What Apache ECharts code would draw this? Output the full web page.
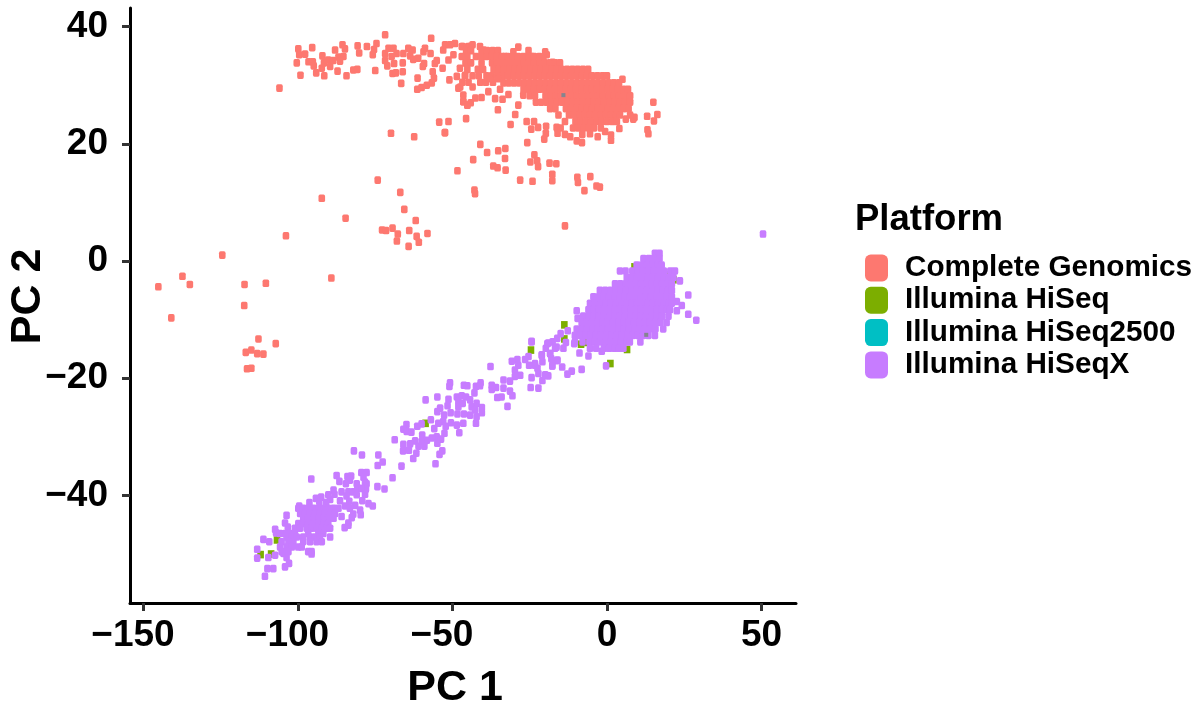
<!DOCTYPE html>
<html>
<head>
<meta charset="utf-8">
<style>html,body{margin:0;padding:0;background:#fff}#c{width:1202px;height:708px}</style>
<script src="https://cdn.jsdelivr.net/npm/echarts@6/dist/echarts.min.js"></script>
</head>
<body>
<div id="c"></div>
<script>
const platforms = ['Complete Genomics','Illumina HiSeq','Illumina HiSeq2500','Illumina HiSeqX'];
const colors = ['#FD7870','#7CAE00','#00BFC4','#C77CFF'];
const xTicks = [-150,-100,-50,0,50];
const yTicks = [-40,-20,0,20,40];

// Complete Genomics: scattered points
const cgScatter = [[-69.9,21.8],[-62.4,21.2],[-52.4,21.9],[-48.4,15.4],[-74.2,13.8],[-66.9,11.7],[-92.3,10.7],[-65.6,8.8],[-61.9,6.9],[-84.6,7.3],[-72.8,5.3],[-71.5,5.2],[-69.4,5.6],[-67.7,4.6],[-64,5.2],[-61.6,4.2],[-58.1,4.7],[-68,3.4],[-60.9,3.2],[-64.2,2.5],[-103.9,4.3],[-124.5,1],[-137.4,-2.6],[-135,-4],[-145.2,-4.4],[-117.3,-4],[-110.4,-3.8],[-89.2,-2.9],[-117.4,-7.6],[-141,-9.7],[-112.8,-13.3],[-107.2,-14.1],[-116.9,-15.6],[-115.1,-15.2],[-113.2,-15.8],[-111.2,-15.9],[-116.5,-18.4],[-115.1,-18.3],[-13.6,6],
[-106,29.5],[-99.9,36.2],[-99.6,35.2],[-100.4,33.8],[-99.2,31.7],[-97.7,35.3],[-95.4,36.4],[-96.6,34],[-95.2,34],[-94.9,33.3],[-94.1,32.1],[-92.3,32.9],[-91.5,31.6],[-92.1,35],[-91.6,33.8],[-90.2,34.3],[-89.6,33.2],[-88,36],[-88.6,34.2],[-86.9,34.8],[-87.2,32.4],[-85.6,36.9],[-84.8,36.2],[-85.3,34.9],[-86.4,34.1],[-84.3,31.6],[-82.1,32.6],[-80.8,32.7],[-80.7,36.7],[-80.2,35.5],[-77.7,36.6],[-74.6,37.1],[-75.4,36.1],[-75.8,35.2],[-75,32.5],[-71.8,38.6],[-71.8,35.4],[-71.8,34.2],[-71.1,33.3],[-70.7,36.3],[-69.1,36.3],[-69.7,34.9],[-68.9,33.7],[-68.1,35.4],[-69.4,32],[-68.3,32.1],[-66.1,32.3],[-66.1,33.8],[-66.6,30.3],[-65.9,35.4],[-64.3,36.3],[-63.7,35],[-62.9,36],[-62.7,34.4],[-61.1,34.6],[-59.4,35.7],[-58.9,36.3],[-56.9,38],[-59.2,33.7],[-59.6,33.2],[-57.1,35.4],[-61.3,31.2],[-61.4,29.3],[-60,29.6],[-58.3,30],[-56.7,30.4],[-56,31.2],[-56.4,32.3],[-55.7,33.7],[-55.1,34.2],[-53,36],[-52.4,36.9],[-50.8,36.9],[-49.2,37.1],[-53.2,32.9],[-51.3,34.3],[-49.7,35.2],[-51,30.9],[-48.6,31.5],[-46.7,36.6],[-44.9,36.6],[-47,34.9],[-45.4,33.7],[-47.6,32.9],[-45.9,31.7],[-48.1,29.5],[-46.5,28.3],[-46.5,27.2],[-45.2,26.6],[-45.6,24.3],[-54.3,23.7],[-51.3,23.8],[-52.5,21.9],
[-41,19.9],[-38.8,18.5],[-35.2,18.8],[-32.9,19.2],[-33,17.5],[-43.3,17.3],[-36.8,16.2],[-35.4,15.9],[-32.8,15.5],[-28.1,13.8],[-24.1,13.6],[-17.7,14.8],[-17.7,13.7],[-24.8,16.9],[-23.5,18.1],[-22.6,17.1],[-22.3,16.1],[-18.6,16.7],[-16.4,16.6],[-9.6,14.3],[-9.4,13.4],[-5.4,14.4],[-7.3,12],[-3.4,12.8],[-2.3,12.6],[-42.9,12.1],[-42.7,11.5],[-25.8,20.2],[-20.3,20.8],[-19.8,21.8],[-19.7,23],[-31.2,23.3],[-35.3,25.8],[-29.7,25],[-26,23.8],[-24.5,22.5],[-23.6,23.8],[-22.3,22.8],[-16,21.8],[-16.3,22.8],[-15,22.7],[-9.8,20.5],[-8.1,20.2],[-13.6,21.6],[-11.9,21.2],[-8,21.6],[-3,21.2],[-5.5,21.7],[-0.6,22.1],[1.3,21.5],[1.3,20.6],[4,22.6],[6.1,24.2],[8.5,24.2],[8.9,24.5],[7.5,24.9],[13,24.7],[15.2,23.9],[16.3,25],[15,27.1],[13.1,22.4],[13.4,21.7],[5,31],[7.3,28],[6.7,29],
[-47,36.6],[-44.3,36.6],[-43.5,36.9],[-41.1,36.6],[-40,36],[-36.8,35.4],[-33,34.9],[-30.3,35.7],[-28.7,36.5],[-25.4,35.9],[-20,35.7],[-19.5,35.2],[-20.6,34.6],[-17.6,33.9],[-24.4,34.9],
[-46.5,27.2],[-45.2,26.6],[-44.1,27],[-42.6,27.8],[-40.6,27.9],[-36.2,27.7],[-33.8,27.6],[-31.9,28.4],[-27.1,28.3],[-28.7,26.6],[-47.5,29.7],[-43.5,29.7],[-38.4,28.9],[-34.6,29.3]];

const cgCloudY = [35.9,34.9,33.8,32.7,31.6,30.5,31.1,30.4,29.3,28.2,27.1,26,24.9,23.8,22.7];
const cgCloudX = [
[-45.6,-44,-40.6,-38.8,-37,-35.3],
[-45.2,-42.4,-40.7,-39,-37.3,-35.6,-33.9,-32.2,-30.5,-28.8,-27.1,-25.4,-23.6,-21.9],
[-45.8,-44,-40.6,-37.2,-35.5,-33.8,-32.1,-30.4,-28.7,-27,-25.3,-23.6,-21.9,-20.2,-18.5,-16.8,-15.2],
[-45.2,-41.8,-40.1,-36.7,-35,-33.3,-31.6,-29.9,-28.2,-26.5,-24.8,-23.1,-21.4,-19.7,-18,-16.3,-14.6,-12.9,-11.2,-9.5,-7.8,-6.1],
[-46,-43.5,-41.5,-39,-37.3,-35.5,-33.8,-32,-30.3,-28.6,-26.9,-25.2,-23.5,-21.8,-20.1,-18.4,-16.7,-15,-13.3,-11.6,-9.9,-8.2,-6.5,-4.8,-3.1,-1.4,0],
[-46.8,-44.8,-41,-39.2,-36.9],
[-37.9,-35.1],
[-33.5,-31.8,-30.1,-28.4,-26.7,-25,-23.3,-21.6,-19.9,-18.2,-16.5,-14.8,-13.1,-11.4,-9.7,-8,-6.3,-4.6,-2.9,-1.2,0.5,2.2,3.9],
[-27,-25.3,-23.6,-21.9,-20.2,-18.5,-16.8,-15.1,-13.4,-11.7,-10,-8.3,-6.6,-4.9,-3.2,-1.5,0.2,1.9,3.6,5.3,6.8],
[-25,-23.3,-19.9,-18.2,-16.5,-14.8,-13.1,-11.4,-9.7,-8,-6.3,-4.6,-2.9,-1.2,0.5,2.2,3.9,5.6,7.5],
[-23,-21.3,-19.6,-17.9,-16.2,-14.5,-12.8,-11.1,-9.4,-7.7,-6,-4.3,-2.6,-0.9,0.8,2.5,4.2,5.9,7.5],
[-18.4,-16.7,-13.3,-11.6,-9.9,-8.2,-6.5,-4.8,-3.1,-1.4,0.3,2,3.7,5.4,7],
[-15.7,-12.3,-10.6,-8.9,-7.2,-5.5,-3.8,-2.1,-0.4,1.3,3,4.2],
[-13.6,-10.2,-8.5,-6.8,-5.1,-3.4,-1.7,0,1.7,3.2],
[-11,-9.3,-7.6,-5.9,-4.2,-2]];

const hiSeq = [[-13.8,-10.9],[-13.8,-13.3],[1.1,-17.5],[8.9,-1],[10.5,-1.1],[6.6,-3],[21.5,-3.2],[20.4,-2.4],[6.5,-15.1],[-6.6,-13.9],[-8.4,-14.2],[-0.3,-6.4],[-24.6,-15.2],[-58.7,-27.7],[-112.1,-50.1],[-108.7,-50],[-106.8,-47.6]];
const hiSeq2500 = [[-14.1,28.3],[12.7,-12.6]];

// Illumina HiSeqX: scattered points
const xScatter = [[50.5,4.6],[23.6,-3.4],[26.3,-5.8],[22.6,-6.9],[24.2,-7.6],[22.6,-8.5],[26.3,-9.1],[28.9,-10.1],[-0.3,-17.9],[-8.2,-18.5],[-11.4,-18.8],[-12.8,-19.3],[-14.5,-18.1],[-17.7,-17.9],[-16.2,-17],[-18,-16.7],[-20.9,-17.2],[-21.1,-16.1],[-19.8,-14.9],[-18.4,-15.8],[-19.3,-14.1],[-17.6,-13.8],[-16.3,-14.7],[-14.1,-14.9],[-16.1,-13.2],[-15,-12.4],[-12.7,-11.9],[-13.3,-13.9],[-10.6,-14.1],[-8.9,-15.7],[-6,-16.2],[-1.7,-15.4],[-9.8,-8.5],[-9.5,-9.8],[-7.7,-9.8],[-24.4,-13.7],[-23.3,-17.5],[-22.5,-18.3],[-22.2,-19.2],[-19.8,-19.5],
[-24.4,-13.8],[-21.1,-16],[-19,-14],[-16.8,-14.9],[-18.4,-15.8],[-16,-16.9],[-17.7,-17.9],[-19,-19.6],[-20.9,-20.4],[-22.2,-21.7],[-24.7,-21.6],[-24.4,-19.9],[-20,-19.4],[-23.3,-17.8],[-25.4,-16.3],[-26.5,-16.8],[-25.2,-17.8],[-29,-16.8],[-30.8,-17.1],[-28.7,-17.8],[-29.8,-18.6],[-28.1,-19.5],[-29.8,-19.7],[-37.7,-18],[-31.4,-20.5],[-33.5,-20.3],[-33.5,-21.7],[-31.4,-22.2],[-30.6,-23],[-34.1,-23.2],[-35.5,-23.3],[-32.2,-24.8],[-35.9,-21.6],[-37.3,-21.2],[-37.3,-21.9],[-40.9,-20.8],[-42.4,-21.4],[-41.1,-21.3],[-42.9,-22.5],[-50.8,-20.8],[-51,-21.4],[-46.3,-21.2],[-45.2,-21.3],[-54.9,-23.2],[-58.7,-23.7],[-51.3,-23.6],[-51.6,-24.7],[-48.6,-23.2],[-47,-23],[-45.6,-23.2],[-44.3,-23.7],[-42.2,-24.3],[-40.5,-25],[-48.1,-24],[-46.7,-24.3],[-48.1,-24.9],[-43.8,-24.9],[-42.7,-25.4],[-40.5,-25.9],[-44.3,-26.3],[-42.2,-26.6],[-42.4,-27.7],[-48.4,-26.1],[-46.3,-26.1],[-50.6,-25.9],[-52.7,-26.3],[-54,-25.1],[-54.9,-25.7],[-46.5,-27.7],[-48.6,-28],[-50.5,-27.6],[-53,-27.4],[-54.6,-27.7],[-52.2,-28.2],[-47.8,-29.3],[-52.6,-29.4],[-57,-27.1],[-60,-27.8],[-61.4,-28.2],[-55.9,-28.6],[-64.9,-27.9],[-65.9,-28.7],[-64.8,-29.1],[-63.3,-29.2],[-59.8,-29.7],[-55.1,-30],[-53.7,-30.4],[-56.7,-30.2],[-58.3,-30.6],[-60,-30.8],[-62.1,-30.7],[-63.7,-31.2],[-65.9,-31.3],[-68.7,-30.5],[-54.9,-31.1],[-59.1,-31.6],[-61,-31.6],[-66,-32.4],[-64.1,-32.3],[-61.7,-32.8],[-53.3,-32.4],[-54.2,-33],[-62.7,-33.7],[-55.5,-34.6],[-66.5,-35],[-72.6,-34.3],[-74,-33.1],[-74.2,-34.9],[-79.3,-33.1],[-81.9,-32.4],[-69.4,-37],[-74.3,-38.5],[-72,-38.9],[-75.8,-41.8],[-77.2,-41.4],[-79.2,-40.9],[-77.8,-36.1],[-79.5,-36.1],[-78.3,-37.7],[-78.8,-36.9],[-82.8,-36.7],[-84,-36.8],[-87.5,-36.6],[-83.2,-37.4],[-86.6,-37.6],[-84.5,-38],[-95.7,-37.2],[-81,-38],[-77.8,-38],[-80.8,-38.8],[-78,-38.9],[-79.4,-38.8],[-82.1,-39.4],[-78.3,-39.8],[-81,-39.9],[-83.7,-39.4],[-85.9,-39.4],[-84.3,-40.1],[-88.5,-39.1],[-88.2,-39.8],[-90.2,-39.9],[-92.5,-40.3],[-94.2,-40.5],[-93.1,-41.1],[-89.6,-40.7],[-86.4,-40.9],[-83.4,-41],[-81.5,-41.7],[-84.8,-41.8],[-83.2,-42.2],[-79.9,-42.5],[-79.7,-43.3],[-82.1,-43.2],[-82.6,-43.8],[-85.9,-43.6],[-83.7,-44.7],[-83.7,-45.1],[-84.9,-45.5],[-103.7,-43.4],[-99.6,-41.8],[-96.3,-41.2],[-90.9,-41.2],
[-107.4,-45.8],[-107.1,-46.4],[-104.2,-44.7],[-103.3,-45.4],[-111.2,-47.5],[-109.3,-47.9],[-113.2,-49.2],[-113.2,-50.7],[-109.6,-50.6],[-107.4,-50.2],[-104.7,-49.9],[-103.7,-50.6],[-102.9,-51.6],[-104.2,-52.2],[-109.9,-52.5],[-108,-52.5],[-110.7,-53.8],[-95.6,-50]];

const xCloudY = [1.3,0.4,-0.7,-1.7,-2.8,-3.9,-5,-6.1,-7.2,-8.3,-9.4,-10.5,-11.6,-12.7,-13.8,-14.9,
  -42.2,-43.1,-43.9,-44.8,-45.6,-46.5,-47.1,-47.9,-48.8,-49.6];
const xCloudX = [
[15.5,17],
[11.8,13.5,15.2,17],
[9.6,11.3,13,14.7,16.4,17.7],
[4.2,6,8.2,9.9,11.6,13.3,15,16.7,18.4,20.5,22],
[6.4,8.1,9.8,11.5,13.2,14.9,16.6,18.3,20,21.5],
[2.6,4.3,6,7.7,9.4,11.1,12.8,14.5,16.2,17.9,19.6,21],
[-2.3,-0.6,1.1,2.8,4.5,6.2,7.9,9.6,11.3,13,14.7,16.4,18.1,19.8,21],
[-4.4,-2.7,-1,0.7,2.4,4.1,5.8,7.5,9.2,10.9,12.6,14.3,16,17.7,19.4,21],
[-5.5,-3.8,-2.1,-0.4,1.3,3,4.7,6.4,8.1,9.8,11.5,13.2,14.9,16.6,18.3,20,21],
[-6,-4.3,-2.6,-0.9,0.8,2.5,4.2,5.9,7.6,9.3,11,12.7,14.4,16.1,17.8,19.5,20.4],
[-7.7,-6,-4.3,-2.6,-0.9,0.8,2.5,4.2,5.9,7.6,9.3,11,12.7,14.4,16.1,17.8,19.9],
[-8.2,-6.5,-4.8,-3.1,-1.4,0.3,2,3.7,5.4,7.1,8.8,10.5,12.2,13.9,15.6,17.3,19.3],
[-9.8,-8.1,-6.4,-4.7,-3,-1.3,0.4,2.1,3.8,5.5,7.2,8.9,10.6,12.3,14,15.7,18.2],
[-10.4,-8.7,-7,-5.3,-3.6,-1.9,-0.2,1.5,3.2,4.9,6.6,8.3,10,11.7,13.4,15.5],
[-10.4,-7.9,-5.7,-3.9,-2.2,-0.5,1.2,2.9,4.6,6.3,7.4,10.8],
[-5.5,-3.5,-1,0.7,2.4,3.9,5.3],
[-99.9,-98.3,-96.7,-95,-93.4,-91.8,-90.2,-88.5,-86.9],
[-99.3,-97.7,-96.1,-94.5,-92.9,-91.3,-89.6,-88],
[-98.3,-96.7,-95,-93.4,-91.8,-90.2,-88.5],
[-99.9,-98.3,-96.7,-95,-93.4,-91.8,-90.2],
[-101,-99.3,-97.2,-95.6,-94,-92.3,-90.7,-89.6],
[-105.8,-104.2,-102.6,-101,-96.7,-93.4,-91.8],
[-103.7,-102,-100.4,-98.3,-96.1,-94.5,-92.9,-89.6],
[-105.3,-103.1,-101.5,-98.3,-96.1,-94,-92.3],
[-105.8,-103.7,-102,-99.9,-98.8],
[-105.3,-103.1,-96.7,-95.6]];

function rows(ys, xs){ const out=[]; ys.forEach((y,i)=>xs[i].forEach(x=>out.push([x,y]))); return out; }
const minus = v => String(v).replace('-', '\u2212');
const font = '"Liberation Sans", Arial, sans-serif';
const size = [6.6,7.6];
const solid = c => ({color:c,opacity:1});
const labelStyle = {fontFamily:font,fontWeight:'bold',fontSize:37,color:'#000'};

function axis(ticks, min, max, name, gap, label, namePad){
  return {
    type:'value', min, max, name, nameLocation:'center', nameGap:gap, nameMoveOverlap:false,
    nameTextStyle:{fontFamily:font,fontWeight:'bold',fontSize:43,color:'#000',padding:namePad},
    axisLine:{show:true,onZero:false,lineStyle:{color:'#000',width:3}},
    axisTick:{show:true,length:8,customValues:ticks,lineStyle:{color:'#333',width:3}},
    axisLabel:Object.assign({customValues:ticks},labelStyle,label),
    splitLine:{show:false}
  };
}

const chart = echarts.init(document.getElementById('c'), null, {renderer:'canvas'});
chart.setOption({
  animation:false,
  backgroundColor:'#fff',
  grid:{left:130,top:8,width:666,height:595,containLabel:false,outerBoundsMode:'none'},
  // on the x axis the digits, not the whole label, are centred on the tick
  xAxis:axis(xTicks,-154.37,61.17,'PC 1',64,{margin:14,
    formatter:v=>v<0?'{neg|'+minus(v)+'}':String(v),
    rich:{neg:Object.assign({padding:[0,21,0,0]},labelStyle)}},[0,16,0,0]),
  yAxis:axis(yTicks,-58.36,43.17,'PC 2',80,{margin:22,formatter:minus},[0,0,0,18]),
  title:{text:'Platform',left:850,top:196,textStyle:{fontFamily:font,fontWeight:'bold',fontSize:36.5,color:'#000'}},
  legend:{orient:'vertical',left:860,top:248,itemWidth:23,itemHeight:27,itemGap:2.3,icon:'roundRect',data:platforms,
    textStyle:{fontFamily:font,fontWeight:'bold',fontSize:29.7,lineHeight:27,color:'#000',padding:[0,0,0,12]}},
  series:[
    {name:platforms[0],type:'scatter',symbol:'roundRect',symbolSize:size,z:2,itemStyle:solid(colors[0]),data:cgScatter.concat(rows(cgCloudY,cgCloudX))},
    {name:platforms[1],type:'scatter',symbol:'rect',symbolSize:size,z:2,itemStyle:solid(colors[1]),data:hiSeq},
    {name:platforms[3],type:'scatter',symbol:'roundRect',symbolSize:size,z:3,itemStyle:solid(colors[3]),data:xScatter.concat(rows(xCloudY,xCloudX))},
    {name:platforms[2],type:'scatter',symbol:'rect',symbolSize:[4,4],z:4,itemStyle:solid(colors[2]),
      data:hiSeq2500.map(p=>({value:p,itemStyle:{color:'#85858f',opacity:1}}))}
  ]
});
</script>
</body>
</html>
